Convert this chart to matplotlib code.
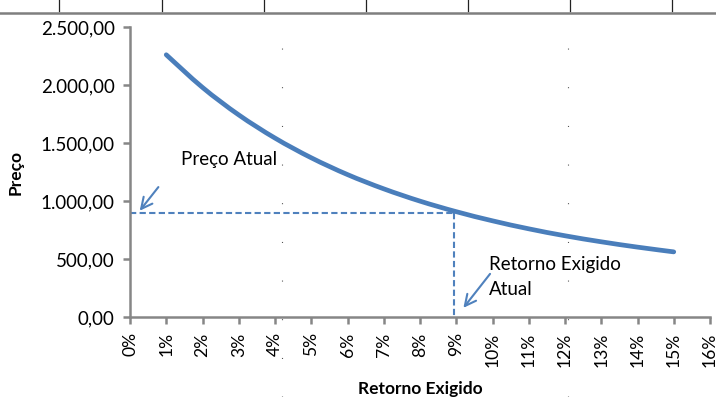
import matplotlib
matplotlib.use("Agg")
import matplotlib.pyplot as plt
from matplotlib.lines import Line2D
from matplotlib.path import Path
from matplotlib.patches import PathPatch
from matplotlib.ticker import FuncFormatter, MultipleLocator

plt.rcParams['font.family'] = ['Lato', 'DejaVu Sans']

# Data
retorno = [0.01, 0.02, 0.03, 0.04, 0.05, 0.06, 0.07, 0.08, 0.09, 0.10, 0.11, 0.12, 0.13, 0.14, 0.15]
preco = [2263, 1981, 1744, 1544, 1374, 1229, 1106, 1000, 909, 830, 761, 701, 649, 603, 562]
preco_atual = 900
retorno_atual = 0.0895

blue = '#4A7EBB'
dash_blue = '#4F81BD'
gray = '#868686'

fig = plt.figure(figsize=(7.16, 3.97), dpi=100)
ax = fig.add_axes([130/716, 1-317/397, 580/716, 289.7/397])

# smoothed line (Excel-style) through the data points using Bezier segments
pts = list(zip(retorno, preco))
verts = [pts[0]]
codes = [Path.MOVETO]
n = len(pts)
for i in range(n - 1):
    p0 = pts[i - 1] if i > 0 else pts[i]
    p1 = pts[i]
    p2 = pts[i + 1]
    p3 = pts[i + 2] if i + 2 < n else pts[i + 1]
    c1 = (p1[0] + (p2[0] - p0[0]) / 6, p1[1] + (p2[1] - p0[1]) / 6)
    c2 = (p2[0] - (p3[0] - p1[0]) / 6, p2[1] - (p3[1] - p1[1]) / 6)
    verts += [c1, c2, p2]
    codes += [Path.CURVE4] * 3
ax.add_patch(PathPatch(Path(verts, codes), facecolor='none', edgecolor=blue, lw=3.4, capstyle='round'))

ax.plot([0, retorno_atual], [preco_atual, preco_atual], color=dash_blue, lw=1.5, dashes=(3, 1.6))
ax.plot([retorno_atual, retorno_atual], [preco_atual, 0], color=dash_blue, lw=1.5, dashes=(3, 1.6))

ax.set_xlim(0, 0.16)
ax.set_ylim(0, 2500)
ax.xaxis.set_major_locator(MultipleLocator(0.01))
ax.yaxis.set_major_locator(MultipleLocator(500))
ax.xaxis.set_major_formatter(FuncFormatter(lambda v, p: f"{round(v*100)}%"))
ax.yaxis.set_major_formatter(FuncFormatter(lambda v, p: f"{v:,.2f}".replace(',', 'X').replace('.', ',').replace('X', '.')))
for s in ['top', 'right']:
    ax.spines[s].set_visible(False)
for s in ['left', 'bottom']:
    ax.spines[s].set_color(gray)
    ax.spines[s].set_linewidth(1.8)
ax.tick_params(axis='both', colors=gray, width=1.8, length=5, direction='out', labelcolor='black', labelsize=13.5)
ax.tick_params(axis='x', labelrotation=90, pad=6, labelsize=12.6)
ax.tick_params(axis='y', pad=6)

ax.set_xlabel('Retorno Exigido', fontsize=12.5, fontweight='bold', labelpad=10)
ax.set_ylabel('Preço', fontsize=12.5, fontweight='bold', labelpad=12)

ax.text(0.0141, 1356, 'Preço Atual', fontsize=13.5, va='center', ha='left')
ax.text(0.099, 346, 'Retorno Exigido\nAtual', fontsize=13.5, va='center', ha='left', linespacing=1.55)

ax.annotate('', xy=(0.0022, 898), xytext=(0.0083, 1140),
            arrowprops=dict(arrowstyle='->', color=dash_blue, lw=1.5, mutation_scale=20))
ax.annotate('', xy=(0.0915, 60), xytext=(0.0998, 391),
            arrowprops=dict(arrowstyle='->', color=dash_blue, lw=1.5, mutation_scale=20))

# top border of surrounding table
fig.add_artist(Line2D([0, 1], [1-12.5/397, 1-12.5/397], color='#7f7f7f', lw=1.8, transform=fig.transFigure))
for xp in [59, 162, 264, 366, 468, 570, 672]:
    fig.add_artist(Line2D([xp/716, xp/716], [1-11/397, 1], color='#222222', lw=0.9, transform=fig.transFigure))
# faint page dots
for xp in [282, 568]:
    fig.add_artist(Line2D([xp/716, xp/716], [0, 1-24/397], color='#333333', lw=0.8,
                          linestyle=(0, (0.8, 34)), transform=fig.transFigure))

fig.savefig('out.png', dpi=100)
